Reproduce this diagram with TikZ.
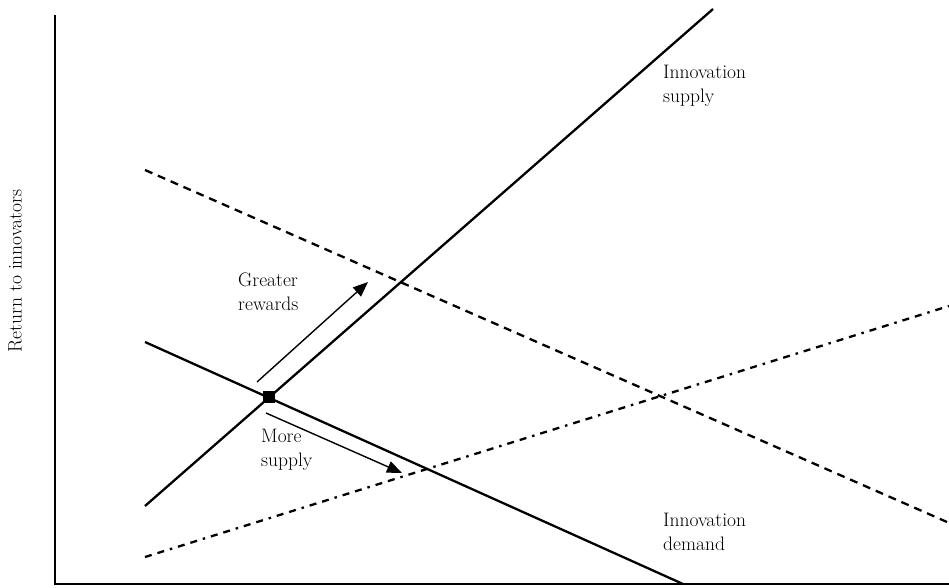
\documentclass[tikz,border=0pt]{standalone}
\usepackage{tikz}
\usetikzlibrary{arrows.meta}

\begin{document}
\begin{tikzpicture}[x=1pt,y=-1pt,>={Triangle[length=15pt,width=12pt]},
  axis/.style={line width=2.6pt},
  curve/.style={line width=2.3pt},
  shifted/.style={line width=2.3pt,dash pattern=on 8pt off 6pt},
  shiftdot/.style={line width=2.3pt,dash pattern=on 7pt off 6pt on 7pt off 6pt on 2.5pt off 6pt},
  move/.style={->,line width=1.4pt},
  lbl/.style={anchor=west,inner sep=0pt,align=left,font=\fontsize{19.5}{24.5}\selectfont}]
 \useasboundingbox (0,0) rectangle (949,588);
 % axes
 \coordinate (top) at (55,15);
 \coordinate (origin) at (55,584);
 \coordinate (right) at (949,584);
 \draw[axis] (top) -- (origin) -- (right);
 \node[rotate=90,font=\fontsize{19.5}{24}\selectfont] (ylabel) at (15,271) {Return to innovators};
 % curves
 \coordinate (s0) at (145,506);
 \coordinate (s1) at (713,9);
 \coordinate (d0) at (145,342);
 \coordinate (d1) at (683,584);
 \coordinate (dd0) at (145,170);
 \coordinate (dd1) at (947,522);
 \coordinate (ss0) at (145,557);
 \coordinate (ss1) at (949,306);
 \draw[curve] (s0) -- (s1);
 \draw[curve] (d0) -- (d1);
 \draw[shifted] (dd0) -- (dd1);
 \draw[shiftdot] (ss0) -- (ss1);
 \node[fill,minimum size=12pt,inner sep=0pt] (eq) at (269,397) {};
 % movements
 \coordinate (r0) at (257,382);
 \coordinate (r1) at (368,282);
 \coordinate (m0) at (266,413);
 \coordinate (m1) at (402,473);
 \draw[move] (r0) -- (r1);
 \draw[move] (m0) -- (m1);
 \node[lbl] (rewards) at (238,292) {Greater\\rewards};
 \node[lbl] (more) at (261,450) {More\\supply};
 \node[lbl] (supply) at (663,86) {Innovation\\supply};
 \node[lbl] (demand) at (663,532) {Innovation\\demand};
\end{tikzpicture}
\end{document}
